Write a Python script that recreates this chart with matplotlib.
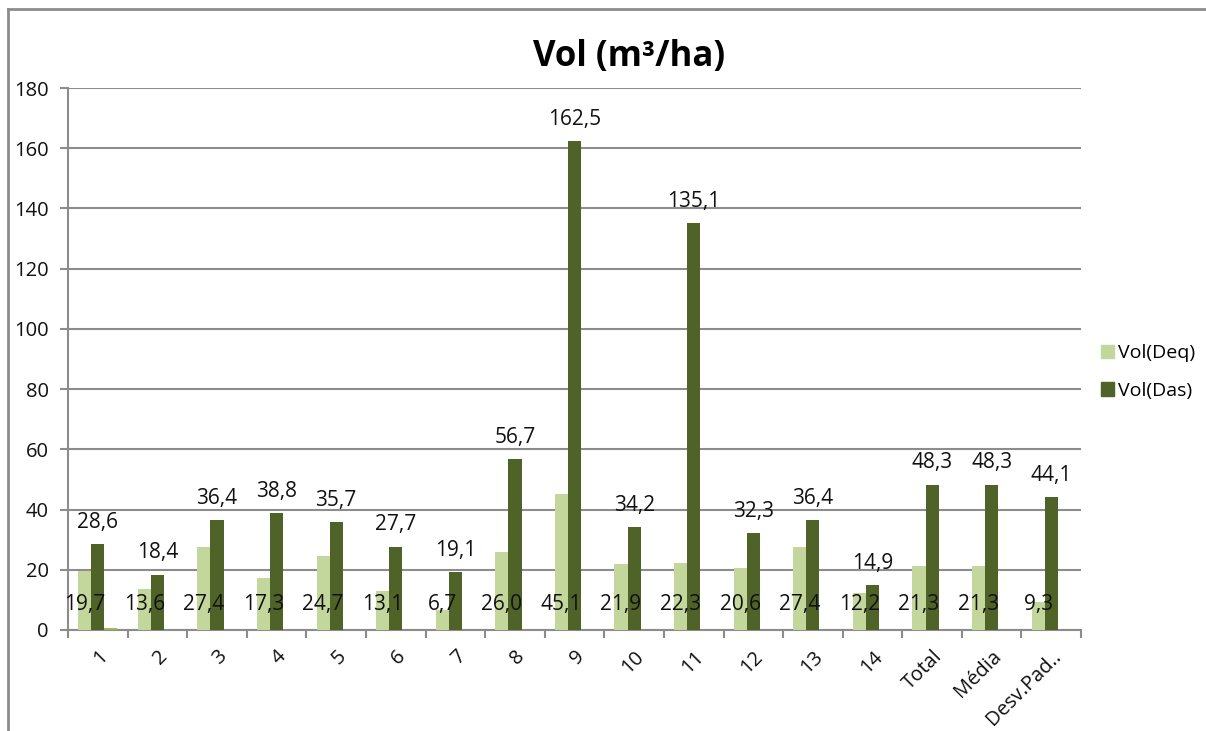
import numpy as np
import matplotlib.pyplot as plt
from matplotlib.lines import Line2D
from matplotlib.patches import Patch

plt.rcParams['font.family'] = ['Open Sans', 'DejaVu Sans']

categories = ["1", "2", "3", "4", "5", "6", "7", "8", "9", "10", "11", "12", "13", "14",
              "Total", "Média", "Desv.Pad.."]
vol_deq = [19.7, 13.6, 27.4, 17.3, 24.7, 13.1, 6.7, 26.0, 45.1, 21.9, 22.3, 20.6, 27.4, 12.2,
           21.3, 21.3, 9.3]
vol_das = [28.6, 18.4, 36.4, 38.8, 35.7, 27.7, 19.1, 56.7, 162.5, 34.2, 135.1, 32.3, 36.4, 14.9,
           48.3, 48.3, 44.1]
# third (unlabelled) series, only the first plot has a value
vol_extra = [0.7] + [0.0] * 16

c_deq = "#C3D69B"
c_das = "#4F6228"
c_extra = "#9BBB59"
grid_c = "#8C8C8C"

fig = plt.figure(figsize=(12.06, 7.31), dpi=100)
ax = fig.add_axes([0.0564, 0.1382, 0.8400, 0.7414])

x = np.arange(len(categories))
w = 0.22
ax.bar(x - w, vol_deq, w, color=c_deq, zorder=3)
ax.bar(x, vol_das, w, color=c_das, zorder=3)
ax.bar(x + w, vol_extra, w, color=c_extra, zorder=3)

for xi, v in zip(x, vol_das):
    ax.annotate(f"{v:.1f}".replace(".", ","), (xi, v), xytext=(0, 8), textcoords="offset points",
                ha="center", va="bottom", fontsize=15, color="#111111", zorder=5)
for xi, v in zip(x, vol_deq):
    ax.text(xi - w, 8.3, f"{v:.1f}".replace(".", ","), ha="center", va="center",
            fontsize=15, color="#111111", zorder=5)

ax.set_xlim(-0.5, len(categories) - 0.5)
ax.set_ylim(0, 180)
ax.set_yticks(np.arange(0, 181, 20))
ax.yaxis.grid(True, color=grid_c, linewidth=1.5, zorder=0)
ax.set_xticks(np.arange(-0.5, len(categories), 1.0))
ax.set_xticklabels([])
ax.set_xticks(x, minor=True)
ax.set_xticklabels(categories, minor=True, rotation=45, ha="right", va="top",
                   rotation_mode="anchor", fontsize=14.5, color="#111111")
ax.tick_params(axis="x", which="minor", length=0, pad=12)
ax.tick_params(axis="x", which="major", length=6, width=1.5, color=grid_c)
ax.tick_params(axis="y", length=6, width=1.5, color=grid_c, labelsize=14.5,
               labelcolor="#111111", pad=8)
for s in ["top", "right"]:
    ax.spines[s].set_visible(False)
for s in ["left", "bottom"]:
    ax.spines[s].set_color(grid_c)
    ax.spines[s].set_linewidth(1.5)

fig.text(629 / 1206, 1 - 57 / 731, "Vol (m³/ha)", ha="center", va="center",
         fontsize=25, fontweight="bold", color="#000000")

handles = [Patch(color=c_deq, label="Vol(Deq)"), Patch(color=c_das, label="Vol(Das)")]
fig.legend(handles=handles, loc="center left", bbox_to_anchor=(1083 / 1206, 1 - 372 / 731),
           frameon=False, fontsize=14, handlelength=0.7, handleheight=0.7,
           handletextpad=0.2, labelspacing=1.0)

# outer chart frame
fig.add_artist(Line2D([8 / 1206, 8 / 1206], [0, 1 - 9 / 731], color=grid_c, linewidth=2))
fig.add_artist(Line2D([8 / 1206, 1], [1 - 9 / 731, 1 - 9 / 731], color=grid_c, linewidth=2))

fig.savefig("out.png", dpi=100)
